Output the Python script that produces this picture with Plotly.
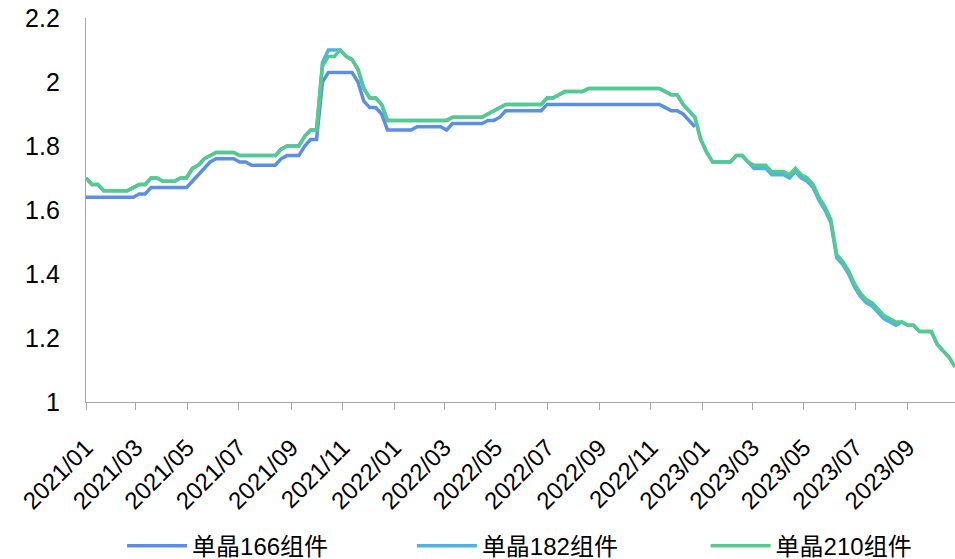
import pandas as pd
import plotly.graph_objects as go

# Weekly module prices (元/W), first observation 2021-01-01
week_dates = pd.date_range("2021-01-01", periods=148, freq="7D")

price_166 = [
    1.64, 1.64, 1.64, 1.64, 1.64, 1.64, 1.64, 1.64, 1.64, 1.65,
    1.65, 1.67, 1.67, 1.67, 1.67, 1.67, 1.67, 1.67, 1.69, 1.71,
    1.73, 1.75, 1.76, 1.76, 1.76, 1.76, 1.75, 1.75, 1.74, 1.74,
    1.74, 1.74, 1.74, 1.76, 1.77, 1.77, 1.77, 1.80, 1.82, 1.82,
    2.00, 2.03, 2.03, 2.03, 2.03, 2.03, 2.00, 1.94, 1.92, 1.92,
    1.90, 1.85, 1.85, 1.85, 1.85, 1.85, 1.86, 1.86, 1.86, 1.86,
    1.86, 1.85, 1.87, 1.87, 1.87, 1.87, 1.87, 1.87, 1.88, 1.88,
    1.89, 1.91, 1.91, 1.91, 1.91, 1.91, 1.91, 1.91, 1.93, 1.93,
    1.93, 1.93, 1.93, 1.93, 1.93, 1.93, 1.93, 1.93, 1.93, 1.93,
    1.93, 1.93, 1.93, 1.93, 1.93, 1.93, 1.93, 1.93, 1.92, 1.91,
    1.91, 1.90, 1.88, 1.86,
]

price_182 = [
    1.70, 1.68, 1.68, 1.66, 1.66, 1.66, 1.66, 1.66, 1.67, 1.68,
    1.68, 1.70, 1.70, 1.69, 1.69, 1.69, 1.70, 1.70, 1.73, 1.74,
    1.76, 1.77, 1.78, 1.78, 1.78, 1.78, 1.77, 1.77, 1.77, 1.77,
    1.77, 1.77, 1.77, 1.79, 1.80, 1.80, 1.80, 1.83, 1.85, 1.85,
    2.06, 2.10, 2.10, 2.10, 2.08, 2.07, 2.04, 1.98, 1.95, 1.95,
    1.93, 1.88, 1.88, 1.88, 1.88, 1.88, 1.88, 1.88, 1.88, 1.88,
    1.88, 1.88, 1.89, 1.89, 1.89, 1.89, 1.89, 1.89, 1.90, 1.91,
    1.92, 1.93, 1.93, 1.93, 1.93, 1.93, 1.93, 1.93, 1.95, 1.95,
    1.96, 1.97, 1.97, 1.97, 1.97, 1.98, 1.98, 1.98, 1.98, 1.98,
    1.98, 1.98, 1.98, 1.98, 1.98, 1.98, 1.98, 1.98, 1.97, 1.96,
    1.96, 1.93, 1.91, 1.89, 1.82, 1.78, 1.75, 1.75, 1.75, 1.75,
    1.77, 1.77, 1.75, 1.73, 1.73, 1.73, 1.71, 1.71, 1.71, 1.70,
    1.72, 1.70, 1.69, 1.67, 1.63, 1.60, 1.56, 1.45, 1.43, 1.40,
    1.36, 1.33, 1.31, 1.30, 1.28, 1.26, 1.25, 1.24, 1.25, 1.24,
    1.24, 1.22, 1.22, 1.22, 1.18, 1.16, 1.14, 1.11,
]

price_210 = [
    1.70, 1.68, 1.68, 1.66, 1.66, 1.66, 1.66, 1.66, 1.67, 1.68,
    1.68, 1.70, 1.70, 1.69, 1.69, 1.69, 1.70, 1.70, 1.73, 1.74,
    1.76, 1.77, 1.78, 1.78, 1.78, 1.78, 1.77, 1.77, 1.77, 1.77,
    1.77, 1.77, 1.77, 1.79, 1.80, 1.80, 1.80, 1.83, 1.85, 1.85,
    2.05, 2.08, 2.08, 2.10, 2.08, 2.07, 2.04, 1.98, 1.95, 1.95,
    1.93, 1.88, 1.88, 1.88, 1.88, 1.88, 1.88, 1.88, 1.88, 1.88,
    1.88, 1.88, 1.89, 1.89, 1.89, 1.89, 1.89, 1.89, 1.90, 1.91,
    1.92, 1.93, 1.93, 1.93, 1.93, 1.93, 1.93, 1.93, 1.95, 1.95,
    1.96, 1.97, 1.97, 1.97, 1.97, 1.98, 1.98, 1.98, 1.98, 1.98,
    1.98, 1.98, 1.98, 1.98, 1.98, 1.98, 1.98, 1.98, 1.97, 1.96,
    1.96, 1.93, 1.91, 1.89, 1.82, 1.78, 1.75, 1.75, 1.75, 1.75,
    1.77, 1.77, 1.75, 1.74, 1.74, 1.74, 1.72, 1.72, 1.72, 1.71,
    1.73, 1.71, 1.70, 1.68, 1.64, 1.61, 1.57, 1.46, 1.44, 1.41,
    1.37, 1.34, 1.32, 1.31, 1.29, 1.27, 1.26, 1.25, 1.25, 1.24,
    1.24, 1.22, 1.22, 1.22, 1.18, 1.16, 1.14, 1.11,
]

series_names = ["单晶166组件", "单晶182组件", "单晶210组件"]
series_values = [price_166, price_182, price_210]
series_colors = ["#5B8FE3", "#4DB3E6", "#55C98E"]
legend_ids = ["legend", "legend2", "legend3"]
# left edge of each legend entry, as a fraction of the plot width
legend_x = [0.0415, 0.3750, 0.7130]

fig = go.Figure()
for name, vals, color, lg in zip(series_names, series_values, series_colors, legend_ids):
    fig.add_trace(
        go.Scatter(
            x=week_dates[: len(vals)],
            y=vals,
            mode="lines",
            name=name,
            legend=lg,
            line=dict(color=color, width=3.5),
        )
    )

legend_style = dict(
    orientation="h",
    xanchor="left",
    yref="container",
    y=0.023,
    yanchor="middle",
    itemwidth=60,
    font=dict(size=24),
    bgcolor="rgba(0,0,0,0)",
)

axis_grey = "#A6A6A6"
fig.update_layout(
    width=955,
    height=559,
    margin=dict(l=86, r=0, t=18, b=157),
    plot_bgcolor="white",
    paper_bgcolor="white",
    font=dict(family="Liberation Sans, Arial, Noto Sans CJK SC", size=24, color="black"),
    showlegend=True,
    legend=dict(legend_style, x=legend_x[0]),
    legend2=dict(legend_style, x=legend_x[1]),
    legend3=dict(legend_style, x=legend_x[2]),
)
fig.update_xaxes(
    range=["2021-01-01", "2023-10-27"],
    tick0="2021-01-01",
    dtick="M2",
    tickformat="%Y/%m",
    tickangle=-45,
    tickfont=dict(size=24),
    ticks="outside",
    ticklen=7,
    tickcolor=axis_grey,
    ticklabelstandoff=14,
    showline=True,
    linecolor=axis_grey,
    linewidth=1.3,
    showgrid=False,
    zeroline=False,
    automargin=False,
)
fig.update_yaxes(
    range=[1, 2.2],
    dtick=0.2,
    tickfont=dict(size=25),
    showline=True,
    linecolor=axis_grey,
    linewidth=1.3,
    showgrid=False,
    zeroline=False,
    ticks="",
    ticklabelstandoff=20,
    automargin=False,
)

fig.write_html("out.html")
